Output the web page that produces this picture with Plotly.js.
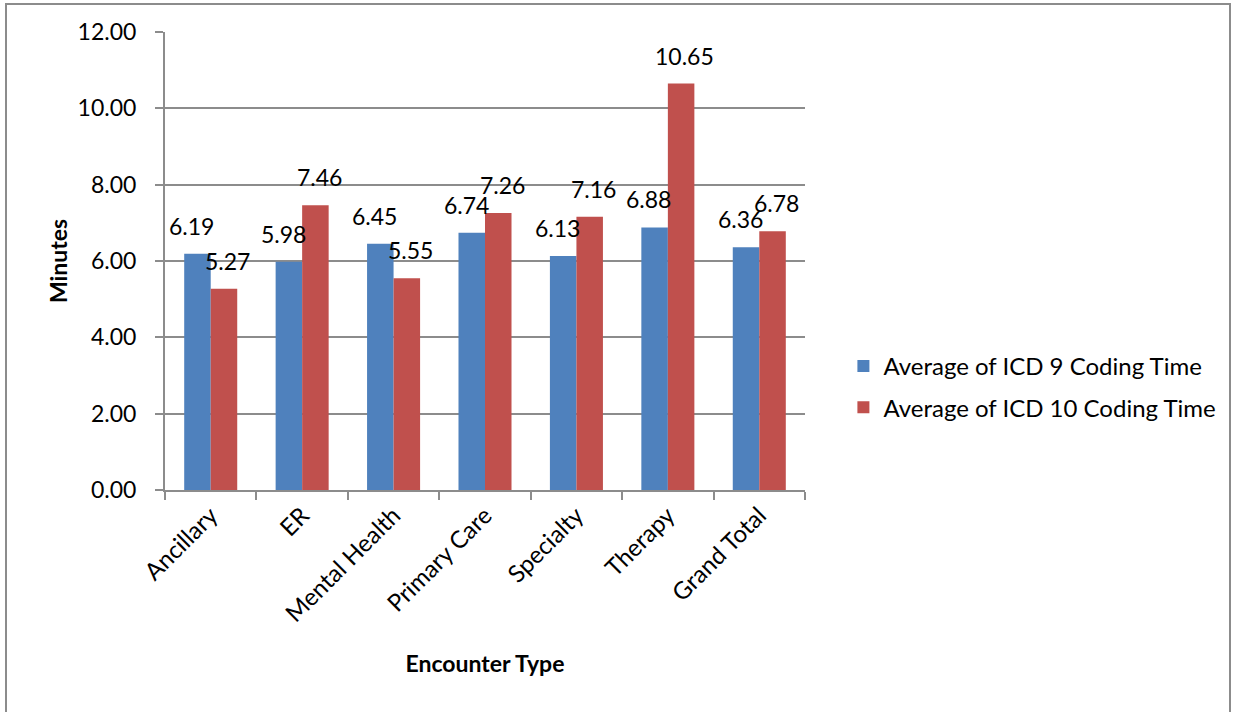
<!DOCTYPE html>
<html>
<head>
<meta charset="utf-8">
<script src="https://cdn.plot.ly/plotly-3.0.1.min.js"></script>
<style>
  html, body { margin: 0; padding: 0; background: #fff; }
  #chart { width: 1233px; height: 712px; }
  #frame { position: absolute; left: 5px; top: 3px; width: 1222px; height: 740px; border: 2px solid #8c8c8c; pointer-events: none; }
</style>
</head>
<body>
<div id="chart"></div>
<div id="frame"></div>
<script>
const categories = ["Ancillary", "ER", "Mental Health", "Primary Care", "Specialty", "Therapy", "Grand Total"];
const icd9 = [6.19, 5.98, 6.45, 6.74, 6.13, 6.88, 6.36];
const icd10 = [5.27, 7.46, 5.55, 7.26, 7.16, 10.65, 6.78];
const seriesNames = ["Average of ICD 9 Coding Time", "Average of ICD 10 Coding Time"];
const yTicks = [0, 2, 4, 6, 8, 10, 12];

const FONT = "Lato, 'Open Sans', sans-serif";
const GRAY = "#8c8c8c";

const traces = [
  { type: "bar", name: seriesNames[0], legendgroup: "a", x: categories, y: icd9, marker: { color: "#4F81BD" } },
  { type: "bar", name: seriesNames[1], legendgroup: "b", x: categories, y: icd10, marker: { color: "#C0504D" } }
];

const annotations = [];
[icd9, icd10].forEach((vals, s) => {
  vals.forEach((v, i) => {
    annotations.push({
      x: categories[i], y: v, xref: "x", yref: "y",
      text: v.toFixed(2), showarrow: false,
      xanchor: "center", yanchor: "bottom",
      xshift: s === 0 ? -19 : 17, yshift: 12,
      font: { family: FONT, size: 23, color: "#000" }
    });
  });
});

const layout = {
  width: 1233, height: 712,
  margin: { l: 165, r: 425, t: 32, b: 222 },
  paper_bgcolor: "#fff", plot_bgcolor: "#fff",
  font: { family: FONT, size: 23, color: "#000" },
  barmode: "group", bargap: 0.42, bargroupgap: 0,
  showlegend: true,
  legend: { x: 1.06, y: 0.225, xanchor: "left", yanchor: "middle", font: { family: FONT, size: 24 },
            traceorder: "grouped", tracegroupgap: 7, itemwidth: 30 },
  xaxis: {
    type: "category", tickson: "boundaries",
    showline: true, linecolor: GRAY, linewidth: 2,
    ticks: "outside", ticklen: 8, tickcolor: GRAY, tickwidth: 2,
    tickangle: -45, showgrid: false,
    tickfont: { family: FONT, size: 24 },
    title: { text: "<b>Encounter Type</b>", font: { family: FONT, size: 23 }, standoff: 30 },
    automargin: false
  },
  yaxis: {
    range: [0, 12], tickvals: yTicks, ticktext: yTicks.map(v => v.toFixed(2)),
    showline: true, linecolor: GRAY, linewidth: 2,
    ticks: "outside", ticklen: 8, tickcolor: GRAY, tickwidth: 2,
    showgrid: true, gridcolor: GRAY, gridwidth: 2, zeroline: false,
    ticklabelstandoff: 14,
    tickfont: { family: FONT, size: 23 },
    title: { text: "<b>Minutes</b>", font: { family: FONT, size: 23 }, standoff: 4 },
    automargin: false
  },
  annotations: annotations
};

Plotly.newPlot("chart", traces, layout, { displayModeBar: false, staticPlot: true });
</script>
</body>
</html>
